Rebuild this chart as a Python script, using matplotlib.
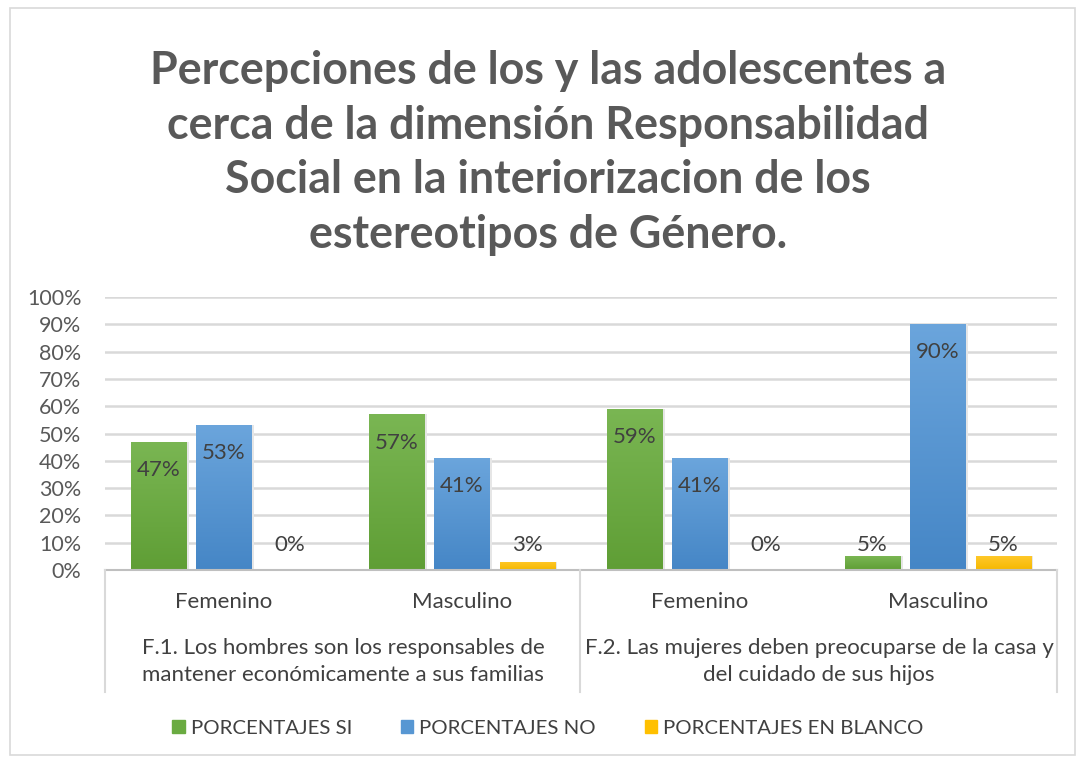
import matplotlib
matplotlib.use("Agg")
import matplotlib.pyplot as plt
import numpy as np
from matplotlib.patches import Rectangle
from matplotlib.lines import Line2D
from matplotlib.colors import LinearSegmentedColormap

plt.rcParams['font.family'] = ['Lato', 'DejaVu Sans']

title = "Percepciones de los y las adolescentes a\ncerca de la dimensión Responsabilidad\nSocial en la interiorizacion de los\nestereotipos de Género."
categories = ["Femenino", "Masculino", "Femenino", "Masculino"]
groups = ["F.1. Los hombres son los responsables de\nmantener económicamente a sus familias",
          "F.2. Las mujeres deben preocuparse de la casa y\ndel cuidado de sus hijos"]
series_names = ["PORCENTAJES SI", "PORCENTAJES NO", "PORCENTAJES EN BLANCO"]
si = [0.47, 0.57, 0.59, 0.05]
no = [0.53, 0.41, 0.41, 0.90]
blanco = [0.00, 0.03, 0.00, 0.05]
yticks = [0, 0.1, 0.2, 0.3, 0.4, 0.5, 0.6, 0.7, 0.8, 0.9, 1.0]

colors_top = ["#7ab653", "#6ba5dc", "#ffc82a"]
colors_bot = ["#5f9e35", "#4586c6", "#f5b800"]
legend_colors = ["#6aab41", "#5797d3", "#ffc000"]

W, H = 1080, 761
fig = plt.figure(figsize=(W/100, H/100), dpi=100)
fig.patch.set_facecolor("white")

# chart border
fig.add_artist(Rectangle((10/W, 1-755/H), 1065/W, 747/H, transform=fig.transFigure,
                         fill=False, edgecolor="#d9d9d9", lw=1.2))

ax = fig.add_axes([105/W, 1-570/H, 952/W, 273/H])
ax.set_xlim(-0.5, 3.5)
ax.set_ylim(0, 1)
for s in ax.spines.values():
    s.set_visible(False)
ax.set_yticks(yticks)
ax.set_yticklabels([f"{int(round(v*100))}%" for v in yticks], color="#595959", fontsize=15.5)
ax.tick_params(axis='y', length=0, pad=17)
ax.set_xticks([])
ax.yaxis.grid(True, color="#d9d9d9", lw=1.8)
ax.set_axisbelow(True)

x = np.arange(len(categories))
width = 0.232
offsets = [-0.275, 0.0, 0.275]
grad = np.linspace(0, 1, 256).reshape(-1, 1)
lab_fs = 16
for data, off, ct, cb in zip([si, no, blanco], offsets, colors_top, colors_bot):
    cmap = LinearSegmentedColormap.from_list("g", [cb, ct])
    bars = ax.bar(x + off, data, width, color=cb, zorder=2, lw=0)
    for b, v in zip(bars, data):
        bx, bw = b.get_x(), b.get_width()
        if v > 0:
            im = ax.imshow(grad, extent=[bx, bx + bw, 0, v], origin='lower', cmap=cmap,
                           aspect='auto', zorder=3)
            im.set_clip_path(b)
            ax.add_patch(Rectangle((bx + bw, 0), 0.01, v, color="#e6e6e6", zorder=1, lw=0))
        lab_y = max(v - 0.103, 0.092)
        ax.text(bx + bw/2, lab_y, f"{int(round(v*100))}%", ha='center', va='center',
                fontsize=lab_fs, color="#404040", zorder=4)
ax.set_xlim(-0.5, 3.5)
ax.set_ylim(0, 1)

# category axis box
lc = "#d9d9d9"
def fx(px): return px / W
def fy(py): return 1 - py / H
fig.add_artist(Line2D([fx(105), fx(1057)], [fy(570), fy(570)], color="#bfbfbf", lw=1.5))
for px in [105, 580, 1057]:
    fig.add_artist(Line2D([fx(px), fx(px)], [fy(570), fy(692)], color=lc, lw=1.5))

for i, c in enumerate(categories):
    ax.text(i, -0.118, c, transform=ax.get_xaxis_transform(), ha='center', va='center',
            fontsize=16, color="#404040")
for j, g in enumerate(groups):
    ax.text(0.5 + 2*j, -0.335, g, transform=ax.get_xaxis_transform(), ha='center', va='center',
            fontsize=16, color="#404040", linespacing=1.42)

# title
fig.text(548/W, fy(153), title, ha='center', va='center', fontsize=32.2, fontweight='bold',
         color="#595959", linespacing=1.38)

# legend
handles = [Rectangle((0, 0), 1, 1, color=c) for c in legend_colors]
fig.legend(handles, series_names, loc='center', bbox_to_anchor=(548/W, fy(728)), ncol=3,
           frameon=False, fontsize=14.7, labelcolor="#404040", handlelength=0.6, handleheight=0.6,
           handletextpad=0.3, columnspacing=2.4)

fig.savefig("out.png", dpi=100, facecolor="white")
